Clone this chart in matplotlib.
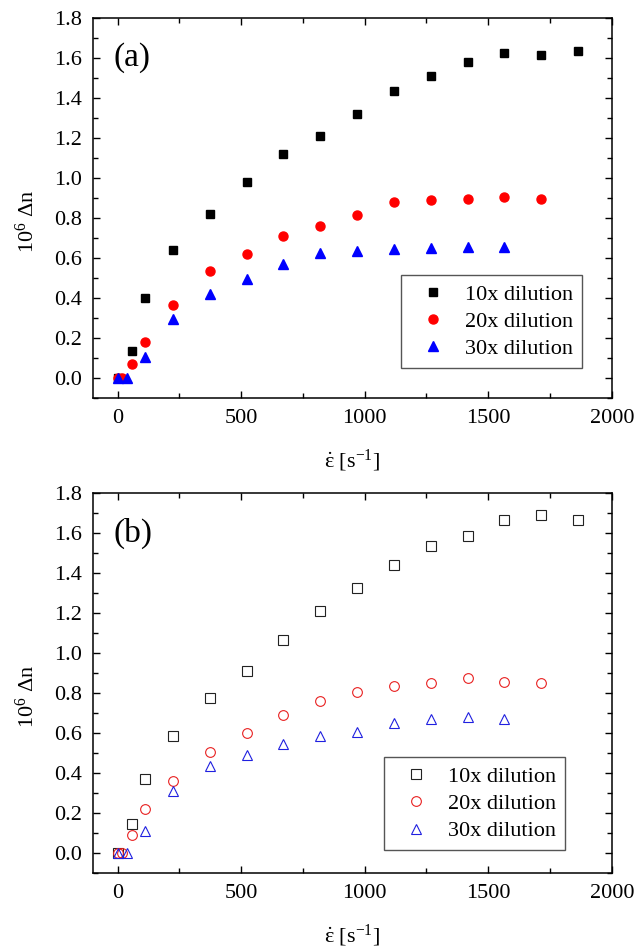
import numpy as np
import matplotlib
matplotlib.use("Agg")
from matplotlib import pyplot as plt
from matplotlib.ticker import MultipleLocator

plt.rcParams['font.family'] = ['Liberation Serif', 'DejaVu Serif']
plt.rcParams['mathtext.fontset'] = 'custom'
plt.rcParams['mathtext.rm'] = 'Liberation Serif'
plt.rcParams['mathtext.it'] = 'Liberation Serif'

# strain rate values for each dilution series
rate_10x = [0, 59, 112, 224, 373, 522, 671, 820, 969, 1118, 1267, 1416, 1565, 1714, 1863]
rate_20x = [0, 18, 59, 112, 224, 373, 522, 671, 820, 969, 1118, 1267, 1416, 1565, 1714]
rate_30x = [0, 37, 112, 224, 373, 522, 671, 820, 969, 1118, 1267, 1416, 1565]

# (a) birefringence, 10^6 dn
dn_a_10x = [0, 0.135, 0.40, 0.642, 0.822, 0.98, 1.12, 1.21, 1.32, 1.433, 1.508, 1.58, 1.625, 1.617, 1.637]
dn_a_20x = [0, 0, 0.068, 0.18, 0.363, 0.533, 0.62, 0.712, 0.762, 0.813, 0.88, 0.888, 0.893, 0.905, 0.895]
dn_a_30x = [0, 0, 0.105, 0.297, 0.422, 0.493, 0.568, 0.627, 0.637, 0.645, 0.652, 0.653, 0.655]

# (b) birefringence, 10^6 dn
dn_b_10x = [0, 0.145, 0.37, 0.585, 0.775, 0.912, 1.063, 1.21, 1.325, 1.44, 1.533, 1.583, 1.665, 1.69, 1.665]
dn_b_20x = [0, 0, 0.088, 0.218, 0.36, 0.507, 0.598, 0.692, 0.76, 0.803, 0.833, 0.848, 0.873, 0.857, 0.85]
dn_b_30x = [0, 0, 0.108, 0.31, 0.437, 0.49, 0.545, 0.587, 0.607, 0.648, 0.672, 0.68, 0.67]

labels = ["10x dilution", "20x dilution", "30x dilution"]

fig = plt.figure(figsize=(6.36, 9.5), dpi=100)
ax_a = fig.add_axes([0.146, 0.581, 0.816, 0.400])
ax_b = fig.add_axes([0.146, 0.081, 0.816, 0.400])


def style_axis(ax, tag):
    ax.set_xlim(-100, 2000)
    ax.set_ylim(-0.1, 1.8)
    ax.xaxis.set_major_locator(MultipleLocator(500))
    ax.xaxis.set_minor_locator(MultipleLocator(250))
    ax.yaxis.set_minor_locator(MultipleLocator(0.1))
    ax.set_yticks(np.arange(0, 1.81, 0.2))
    ax.set_yticklabels(["%.1f" % v for v in np.arange(0, 1.81, 0.2)])
    ax.tick_params(which='both', direction='in', top=True, right=True,
                   labelsize=16, width=1.0)
    ax.tick_params(which='major', length=5, pad=8)
    ax.tick_params(which='minor', length=3.5)
    for s in ax.spines.values():
        s.set_linewidth(1.1)
    ax.set_xlabel(r'$\dot{\varepsilon}$ [s$^{-1}$]', fontsize=16, labelpad=14)
    ax.set_ylabel(r'10$^{6}$ Δn', fontsize=16)
    ax.yaxis.set_label_coords(-0.105, 0.465)
    ax.text(0.04, 0.895, tag, transform=ax.transAxes, fontsize=24, va='center')


def add_legend(ax, anchor):
    ax.legend(loc='lower right', bbox_to_anchor=anchor, borderaxespad=0,
              fontsize=16, fancybox=False, edgecolor='#555555', framealpha=1,
              handletextpad=0.4, borderpad=0.4, labelspacing=0.3,
              handlelength=2.1)


# filled symbols
ax_a.plot(rate_10x, dn_a_10x, 's', color='black', ms=6, label=labels[0])
ax_a.plot(rate_20x, dn_a_20x, 'o', color='red', ms=6.5, label=labels[1])
ax_a.plot(rate_30x, dn_a_30x, '^', color='blue', ms=7, label=labels[2])
style_axis(ax_a, '(a)')
add_legend(ax_a, (0.943, 0.079))

# open symbols
ax_b.plot(rate_10x, dn_b_10x, 's', mfc='none', mec='#222222', mew=0.8, ms=6.5, label=labels[0])
ax_b.plot(rate_20x, dn_b_20x, 'o', mfc='none', mec='#e82020', mew=0.8, ms=7, label=labels[1])
ax_b.plot(rate_30x, dn_b_30x, '^', mfc='none', mec='#2020e0', mew=0.8, ms=7.5, label=labels[2])
style_axis(ax_b, '(b)')
add_legend(ax_b, (0.91, 0.06))

fig.savefig("out.png", dpi=100)
